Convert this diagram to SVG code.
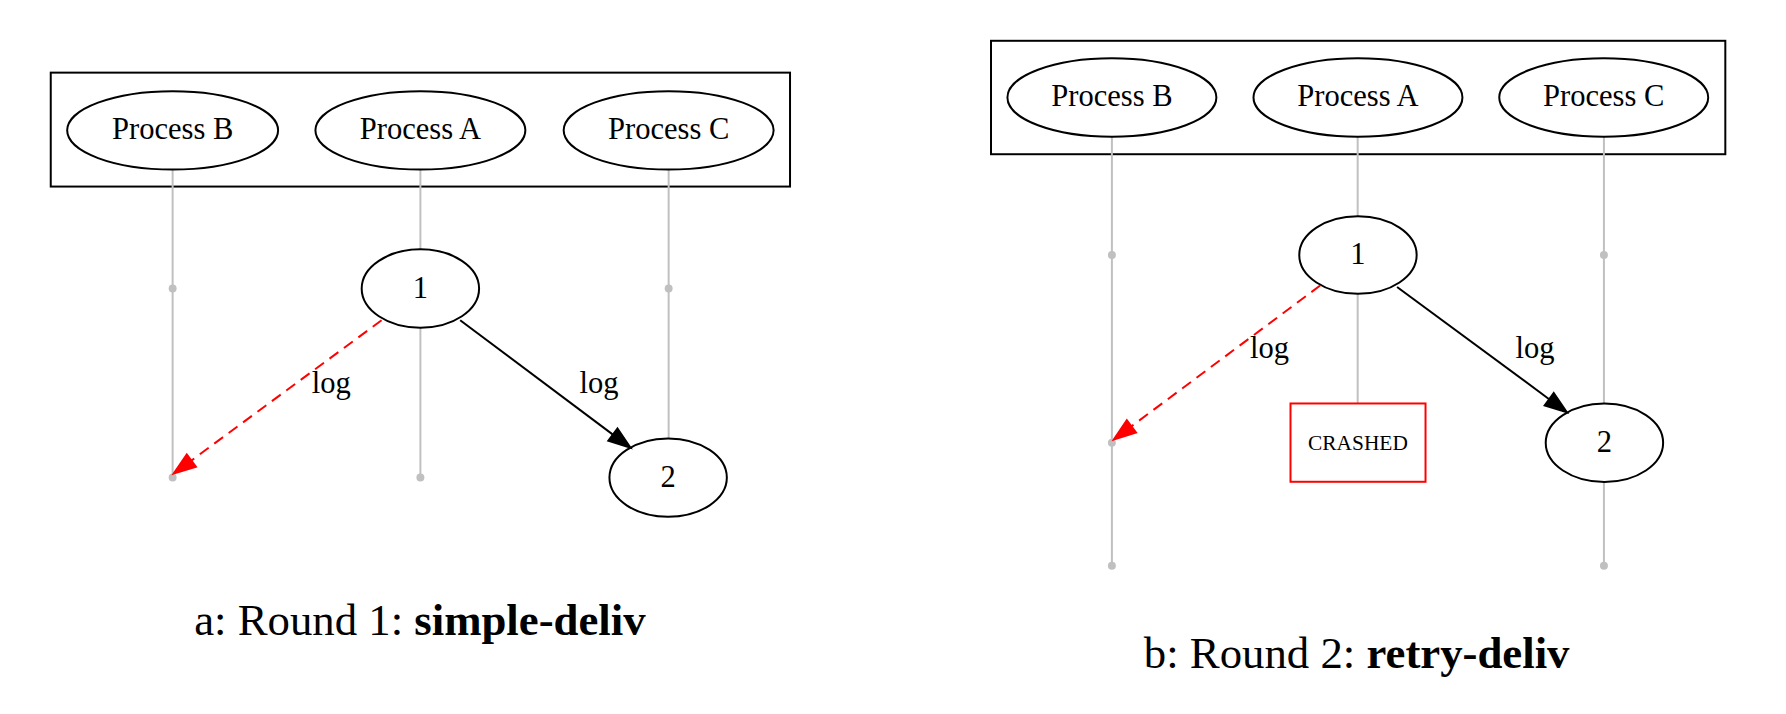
<svg xmlns="http://www.w3.org/2000/svg" width="1786" height="714" viewBox="0 0 1786 714">
<style>
text{font-family:"Liberation Serif","Times New Roman",serif;fill:#000}
.lbl{font-size:30.7px;text-anchor:middle}
.cap{font-size:45px;text-anchor:middle}
.crash{font-size:21.5px;text-anchor:middle}
.node{fill:none;stroke:#000;stroke-width:2}
.cluster{fill:none;stroke:#000;stroke-width:2}
.life{stroke:#c0c0c0;stroke-width:2;fill:none}
.dot{fill:#c0c0c0}
.edge{stroke:#000;stroke-width:2;fill:none}
.lost{stroke:#ff0000;stroke-width:2;fill:none;stroke-dasharray:11,7}
</style>
<defs>
<marker id="ahB" markerUnits="userSpaceOnUse" markerWidth="24" markerHeight="18" refX="0" refY="0" orient="auto" viewBox="0 -8 24 18" overflow="visible">
<path d="M0,-7.7 L22,0 L0,7.7 z" fill="#000" stroke="#000" stroke-width="2"/>
</marker>
<marker id="ahR" markerUnits="userSpaceOnUse" markerWidth="24" markerHeight="18" refX="0" refY="0" orient="auto" viewBox="0 -8 24 18" overflow="visible">
<path d="M0,-7.7 L22,0 L0,7.7 z" fill="#ff0000" stroke="#ff0000" stroke-width="2"/>
</marker>
</defs>

<!-- Panel a -->
<g id="panel-a" transform="scale(0.995)">
<g id="a-cluster"><rect class="cluster" x="51" y="73" width="743" height="114.5"/></g>
<g id="a-lifelines">
<line class="life" x1="173.5" y1="170" x2="173.5" y2="480"/>
<line class="life" x1="422.5" y1="170" x2="422.5" y2="251"/>
<line class="life" x1="422.5" y1="329.5" x2="422.5" y2="480"/>
<line class="life" x1="672" y1="170" x2="672" y2="441"/>
<circle class="dot" cx="173.5" cy="290" r="4"/>
<circle class="dot" cx="672" cy="290" r="4"/>
<circle class="dot" cx="173.5" cy="480" r="4"/>
<circle class="dot" cx="422.5" cy="480" r="4"/>
</g>
<g id="a-procB"><ellipse class="node" cx="173.5" cy="131" rx="106" ry="39.4"/><text class="lbl" x="173.5" y="140">Process B</text></g>
<g id="a-procA"><ellipse class="node" cx="422.5" cy="131" rx="105.5" ry="39.4"/><text class="lbl" x="422.5" y="140">Process A</text></g>
<g id="a-procC"><ellipse class="node" cx="672" cy="131" rx="105.5" ry="39.4"/><text class="lbl" x="672" y="140">Process C</text></g>
<g id="a-n1"><ellipse class="node" cx="422.5" cy="290" rx="59" ry="39.4"/><text class="lbl" x="422.5" y="299">1</text></g>
<g id="a-n2"><ellipse class="node" cx="671.5" cy="480" rx="59" ry="39.4"/><text class="lbl" x="671.5" y="489">2</text></g>
<g id="a-edges">
<path class="lost" d="M383.5,321.8 L192.3,462.9" marker-end="url(#ahR)"/>
<text class="lbl" x="333" y="394.5">log</text>
<path class="edge" d="M462.5,321.8 L616,436.8" marker-end="url(#ahB)"/>
<text class="lbl" x="602" y="394.5">log</text>
</g>
<text class="cap" x="422" y="638">a: Round 1: <tspan font-weight="bold">simple-deliv</tspan></text>
</g>

<!-- Panel b -->
<g id="panel-b" transform="translate(893,0) scale(0.995) translate(-893,0)">
<g id="b-cluster"><rect class="cluster" x="991.5" y="41" width="738" height="114"/></g>
<g id="b-lifelines">
<line class="life" x1="1113" y1="137" x2="1113" y2="568.5"/>
<line class="life" x1="1360" y1="137" x2="1360" y2="217.5"/>
<line class="life" x1="1360" y1="295" x2="1360" y2="405.5"/>
<line class="life" x1="1607.5" y1="137" x2="1607.5" y2="405.5"/>
<line class="life" x1="1607.5" y1="484" x2="1607.5" y2="568.5"/>
<circle class="dot" cx="1113" cy="256.3" r="4"/>
<circle class="dot" cx="1607.5" cy="256.3" r="4"/>
<circle class="dot" cx="1113" cy="445" r="4"/>
<circle class="dot" cx="1113" cy="568.5" r="4"/>
<circle class="dot" cx="1607.5" cy="568.5" r="4"/>
</g>
<g id="b-procB"><ellipse class="node" cx="1113" cy="98" rx="105" ry="39.4"/><text class="lbl" x="1113" y="107">Process B</text></g>
<g id="b-procA"><ellipse class="node" cx="1360.3" cy="98" rx="105" ry="39.4"/><text class="lbl" x="1360.3" y="107">Process A</text></g>
<g id="b-procC"><ellipse class="node" cx="1607.3" cy="98" rx="105" ry="39.4"/><text class="lbl" x="1607.3" y="107">Process C</text></g>
<g id="b-n1"><ellipse class="node" cx="1360.3" cy="256.3" rx="59" ry="39"/><text class="lbl" x="1360.3" y="265.3">1</text></g>
<g id="b-crashed"><rect x="1292.5" y="405.5" width="135.7" height="78.7" fill="none" stroke="#ff0000" stroke-width="2"/><text class="crash" x="1360.3" y="452">CRASHED</text></g>
<g id="b-n2"><ellipse class="node" cx="1608" cy="445" rx="59" ry="39.4"/><text class="lbl" x="1608" y="454">2</text></g>
<g id="b-edges">
<path class="lost" d="M1322.3,287 L1132.6,428.5" marker-end="url(#ahR)"/>
<text class="lbl" x="1271.5" y="360.2">log</text>
<path class="edge" d="M1399.6,288.4 L1552.5,401.2" marker-end="url(#ahB)"/>
<text class="lbl" x="1538.3" y="360.2">log</text>
</g>
<text class="cap" x="1359" y="671">b: Round 2: <tspan font-weight="bold">retry-deliv</tspan></text>
</g>
</svg>
